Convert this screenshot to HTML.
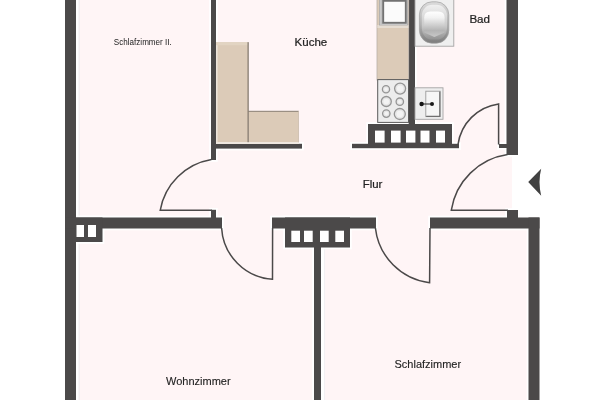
<!DOCTYPE html>
<html><head><meta charset="utf-8">
<style>
html,body{margin:0;padding:0;background:#fff;width:600px;height:400px;overflow:hidden}
svg{display:block;will-change:transform}
text{font-family:"Liberation Sans",sans-serif;fill:#222}
.lb{stroke:#222;stroke-width:0.12}
.lb2{stroke:#222;stroke-width:0.22}
</style></head><body>
<svg width="600" height="400" viewBox="0 0 600 400">
<defs>
<linearGradient id="tg" x1="0" y1="0" x2="0" y2="1">
<stop offset="0" stop-color="#ffffff"/><stop offset="0.25" stop-color="#f2f2f2"/><stop offset="0.75" stop-color="#b4b4b4"/><stop offset="1" stop-color="#c8c8c8"/>
</linearGradient>
<linearGradient id="to1" x1="0" y1="0" x2="0" y2="1">
<stop offset="0" stop-color="#dcdcdc"/><stop offset="0.55" stop-color="#b0b0b0"/><stop offset="1" stop-color="#7c7c7c"/>
</linearGradient>
<linearGradient id="to2" x1="0" y1="0" x2="0" y2="1">
<stop offset="0" stop-color="#f0f0f0"/><stop offset="0.6" stop-color="#cacaca"/><stop offset="1" stop-color="#929292"/>
</linearGradient>

</defs>
<!-- pink floor -->
<g fill="#fff5f6">
<rect x="76" y="0" width="431" height="400"/>
<rect x="507" y="155" width="5" height="63"/>
<rect x="507" y="218" width="21.5" height="182"/>
</g>
<!-- wall halos -->
<rect x="76" y="0" width="3" height="400" fill="#fff"/>
<rect x="78.6" y="0" width="1" height="217" fill="#eeeced"/>
<rect x="78.6" y="229" width="1" height="171" fill="#eeeced"/>
<rect x="321" y="229" width="3.5" height="171" fill="#fff"/>
<rect x="324.2" y="229" width="0.9" height="171" fill="#f0eef0"/>
<g fill="#fff" stroke="#fff" stroke-width="3.6">
<rect x="65" y="0" width="11" height="400"/>
<rect x="65" y="217.5" width="157" height="11"/>
<rect x="76" y="217.5" width="26.5" height="24.5"/>
<rect x="272" y="217.5" width="104" height="11"/>
<rect x="285" y="217.5" width="65" height="30"/>
<rect x="314" y="228" width="7" height="172"/>
<rect x="430" y="217.5" width="109.5" height="11"/>
<rect x="528.5" y="217.5" width="11" height="183"/>
<rect x="507" y="210" width="11" height="9"/>
<rect x="506.5" y="0" width="11.5" height="155"/>
<rect x="499" y="144" width="9" height="4"/>
<rect x="352" y="143.8" width="107" height="4.4"/>
<rect x="368" y="124" width="84" height="24"/>
<rect x="408.7" y="0" width="6.3" height="124"/>
<rect x="216" y="143.8" width="86" height="4.8"/>
<rect x="211" y="0" width="5" height="160"/>
<rect x="211" y="209.8" width="5" height="9"/>
</g>
<g fill="#4b4949">
<rect x="65" y="0" width="11" height="400"/>
<rect x="65" y="217.5" width="157" height="11"/>
<rect x="76" y="217.5" width="26.5" height="24.5"/>
<rect x="272" y="217.5" width="104" height="11"/>
<rect x="285" y="217.5" width="65" height="30"/>
<rect x="314" y="228" width="7" height="172"/>
<rect x="430" y="217.5" width="109.5" height="11"/>
<rect x="528.5" y="217.5" width="11" height="183"/>
<rect x="507" y="210" width="11" height="9"/>
<rect x="506.5" y="0" width="11.5" height="155"/>
<rect x="499" y="144" width="9" height="4"/>
<rect x="352" y="143.8" width="107" height="4.4"/>
<rect x="368" y="124" width="84" height="24"/>
<rect x="408.7" y="0" width="6.3" height="124"/>
<rect x="216" y="143.8" width="86" height="4.8"/>
<rect x="211" y="0" width="5" height="160"/>
<rect x="211" y="209.8" width="5" height="9"/>
</g>
<!-- windows -->
<g fill="#fff">
<rect x="76.5" y="225" width="7.5" height="12"/>
<rect x="88" y="225" width="8" height="12"/>
<rect x="291.3" y="230.7" width="8.7" height="11.3"/>
<rect x="304" y="230.7" width="8.7" height="11.3"/>
<rect x="320" y="230.7" width="8.7" height="11.3"/>
<rect x="335.3" y="230.7" width="8.7" height="11.3"/>
<rect x="375" y="130.6" width="9.6" height="12"/>
<rect x="391" y="130.6" width="9.6" height="12"/>
<rect x="406" y="130.6" width="9.4" height="12"/>
<rect x="420.5" y="130.6" width="9" height="12"/>
<rect x="436" y="130.6" width="9" height="12"/>
</g>
<!-- doors -->
<g fill="none" stroke="#4b4949" stroke-width="1.5">
<path d="M211.5,159.5 A62.6,62.6 0 0 0 160.2,210.3 L212,210.3"/>
<path d="M221.6,228 A54.7,54.7 0 0 0 272.5,279.3 L272.6,228"/>
<path d="M375.4,228 A62.3,62.3 0 0 0 429.6,282.7 L430,228"/>
<path d="M507.6,154.6 A66.7,66.7 0 0 0 451.3,210.2 L508,210.2"/>
<path d="M458,144.5 A47.6,47.6 0 0 1 498.6,103.9 L498.6,144.5"/>
</g>
<!-- kitchen counters -->
<g fill="#dccbb8">
<rect x="216" y="42.2" width="32.5" height="100"/>
<rect x="248" y="111" width="50.8" height="31.2"/>
</g>
<rect x="216" y="42.2" width="1.6" height="100" fill="#ece4da"/>
<rect x="216" y="142" width="83" height="2" fill="#efe8e0"/>
<rect x="216" y="42.2" width="32.5" height="3" fill="#e2d4c2"/>
<rect x="247.6" y="42.2" width="1" height="100" fill="#6e655d"/>
<rect x="248" y="110.8" width="50.8" height="1" fill="#8a8077"/>
<rect x="298.2" y="111" width="0.7" height="31.2" fill="#c9bcae"/>
<rect x="377" y="-1" width="31.7" height="81" fill="#dccbb8" stroke="#b8b0a8" stroke-width="0.8"/>
<rect x="377.4" y="25" width="31" height="3" fill="#e6ddd2"/>
<rect x="379.5" y="-1" width="28" height="26" fill="#dedede" stroke="#a8a8a8" stroke-width="0.8"/>
<rect x="380.3" y="0" width="2.2" height="24.5" fill="#c0c0c0"/>
<rect x="383.2" y="0.8" width="22.6" height="22" fill="#fbfbfb" stroke="#727272" stroke-width="1.9"/>
<!-- stove -->
<rect x="377.7" y="79.6" width="30.8" height="42.8" fill="#ececec" stroke="#5a5a5a" stroke-width="1"/>
<g fill="#e6e6e6" stroke="#959595" stroke-width="1.3">
<circle cx="386" cy="89.2" r="3.6"/>
<circle cx="400.1" cy="88.6" r="5.5"/>
<circle cx="386.3" cy="101.5" r="5"/>
<circle cx="399.8" cy="101.7" r="3.7"/>
<circle cx="386.3" cy="113.6" r="3.7"/>
<circle cx="399.8" cy="114" r="5.5"/>
</g>
<g fill="#f3f3f3">
<circle cx="386" cy="89.2" r="1.8"/>
<circle cx="400.1" cy="88.6" r="3.2"/>
<circle cx="386.3" cy="101.5" r="2.8"/>
<circle cx="399.8" cy="101.7" r="1.8"/>
<circle cx="386.3" cy="113.6" r="1.8"/>
<circle cx="399.8" cy="114" r="3.2"/>
</g>
<!-- bath -->
<rect x="415" y="-1" width="38.8" height="47.2" fill="#efefef" stroke="#a4a4a4" stroke-width="0.9"/>
<rect x="419.4" y="1.8" width="29.4" height="41.4" rx="12.5" ry="13" fill="url(#to1)" stroke="#a0a0a0" stroke-width="0.7"/>
<rect x="421.8" y="4.8" width="25.2" height="34.8" rx="10.5" ry="11" fill="url(#to2)"/>
<path d="M424.2,17.5 Q424.2,11.4 430.5,11.4 L438.3,11.4 Q444.6,11.4 444.6,17.5 L444.6,32.5 L434.4,37 L424.2,32.5 Z" fill="url(#tg)"/>
<rect x="415" y="87.8" width="28" height="31.5" fill="#eeeeee" stroke="#a4a4a4" stroke-width="0.9"/>
<rect x="425.8" y="91.2" width="14.3" height="25.4" fill="#f6f6f6" stroke="#9a9a9a" stroke-width="0.9"/>
<path d="M426.2,116.3 L439.8,116.3 L439.8,91.5" fill="none" stroke="#707070" stroke-width="1.2"/>
<line x1="421.6" y1="104" x2="432" y2="104" stroke="#333" stroke-width="1.1"/>
<circle cx="421.6" cy="104" r="2.2" fill="#151515"/>
<circle cx="432" cy="104" r="2" fill="#1a1a1a"/>
<!-- arrow -->
<path d="M528.2,182 L541.2,168.8 Q537.8,182 541.2,195.8 Z" fill="#414141"/>
<!-- labels -->
<text x="113.8" y="44.5" font-size="9.4" textLength="58" lengthAdjust="spacingAndGlyphs" fill="#3a3a3a">Schlafzimmer II.</text>
<text x="294.6" y="46.2" font-size="11.5" class="lb2">Küche</text>
<text x="469.4" y="23.2" font-size="11.6" class="lb2">Bad</text>
<text x="362.8" y="188.2" font-size="11.4" class="lb2">Flur</text>
<text x="166" y="385.4" font-size="11" class="lb">Wohnzimmer</text>
<text x="394.5" y="367.5" font-size="11" class="lb">Schlafzimmer</text>
</svg>
</body></html>
